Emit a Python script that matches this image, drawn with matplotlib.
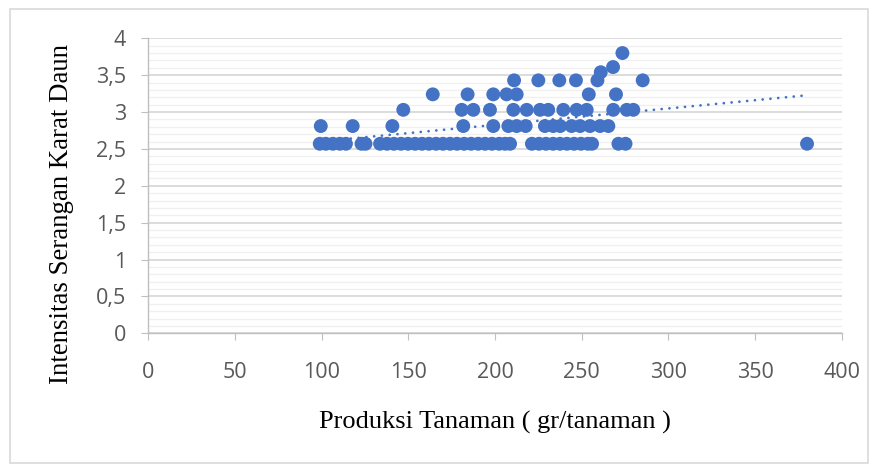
import matplotlib.pyplot as plt
import numpy as np
from matplotlib.ticker import MultipleLocator, FuncFormatter
from matplotlib.patches import Rectangle

# data: production (gr/plant) vs leaf rust intensity
y_257 = [98.9, 102.4, 106.5, 110.5, 114.0, 123.0, 125.3,
         133.7, 137.7, 141.7, 145.8, 149.8, 153.9, 157.9, 161.9, 166.0, 170.0,
         174.1, 178.1, 182.2, 186.2, 190.3, 194.3, 198.3, 202.4, 205.8, 208.7,
         221.3, 225.4, 229.4, 233.5, 237.5, 241.5, 245.6, 249.6, 253.6, 256.0,
         271.2, 275.3, 380.0]
y_281 = [99.5, 117.9, 140.8, 181.7, 199.0, 207.7, 212.5, 217.7, 228.8, 233.6,
         237.6, 244.2, 249.1, 254.8, 260.6, 265.4]
y_303 = [147.1, 180.8, 187.5, 197.1, 210.6, 218.3, 226.0, 230.7, 239.4, 247.1,
         252.9, 268.2, 276.0, 279.8]
y_324 = [164.1, 184.2, 199.0, 206.7, 212.5, 254.1, 269.8]
y_343 = [211.0, 225.0, 237.1, 246.7, 259.1, 285.2]
y_354 = [261.0]
y_361 = [268.1]
y_380 = [273.5]

groups = [(2.57, y_257), (2.81, y_281), (3.03, y_303), (3.24, y_324),
          (3.43, y_343), (3.54, y_354), (3.61, y_361), (3.80, y_380)]

x = []
y = []
for level, xs in groups:
    x += xs
    y += [level] * len(xs)
x = np.array(x)
y = np.array(y)

blue = '#4472C4'

fig = plt.figure(figsize=(8.76, 4.66), dpi=100)
ax = fig.add_axes([148.3/876, 1-333.3/466, 693.4/876, 295/466])

# linear trendline
k, b = np.polyfit(x, y, 1)
xt = np.array([x.min(), x.max()])
ax.plot(xt, k*xt + b, color=blue, lw=2.0, linestyle=(0, (0.01, 2.8)),
        dash_capstyle='round', zorder=2)

ax.scatter(x, y, s=100, color=blue, edgecolors='none', zorder=3)

ax.set_xlim(0, 400)
ax.set_ylim(0, 4)
ax.xaxis.set_major_locator(MultipleLocator(50))
ax.yaxis.set_major_locator(MultipleLocator(0.5))
ax.yaxis.set_minor_locator(MultipleLocator(0.1))
ax.yaxis.set_major_formatter(FuncFormatter(lambda v, p: ('%g' % v).replace('.', ',')))

ax.grid(axis='y', which='major', color='#d9d9d9', lw=1.3, zorder=0)
ax.grid(axis='y', which='minor', color='#f0f0f0', lw=1.0, zorder=0)
ax.set_axisbelow(True)

for s in ['top', 'right']:
    ax.spines[s].set_visible(False)
for s in ['left', 'bottom']:
    ax.spines[s].set_color('#bfbfbf')
    ax.spines[s].set_linewidth(1.0)

ax.tick_params(axis='both', which='major', length=5, color='#bfbfbf',
               labelcolor='#595959', labelsize=15.5)
ax.tick_params(axis='x', pad=16)
ax.tick_params(axis='y', pad=11)
ax.tick_params(which='minor', length=0)
for t in ax.get_xticklabels() + ax.get_yticklabels():
    t.set_fontfamily('Open Sans')

fig.text(62/876, 1-214/466, 'Intensitas Serangan Karat Daun', rotation=90,
         ha='center', va='center', family='Liberation Serif', fontsize=19.3)
fig.text(495/876, 1-422/466, 'Produksi Tanaman ( gr/tanaman )',
         ha='center', va='center', family='Liberation Serif', fontsize=19)

# light frame around the chart
fig.patches.append(Rectangle((10/876, 1-463/466), 858/876, 454/466,
                             transform=fig.transFigure, fill=False,
                             edgecolor='#d9d9d9', lw=1.2))

fig.savefig('out.png', dpi=100)
